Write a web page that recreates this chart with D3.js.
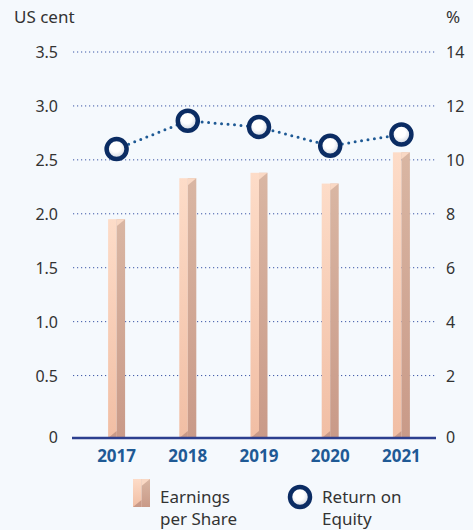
<!DOCTYPE html>
<html lang="en">
<head>
<meta charset="UTF-8">
<title>EPS and ROE</title>
<script src="https://cdn.jsdelivr.net/npm/d3@7"></script>
<style>
  body { margin: 0; background: #f5f9fd; }
  text { font-family: "Noto Sans", "Open Sans", sans-serif; }
</style>
</head>
<body>
<script>
const years = ["2017", "2018", "2019", "2020", "2021"];
const eps = [1.95, 2.33, 2.38, 2.28, 2.57];
const roe = [10.4, 11.45, 11.22, 10.52, 10.94];
const leftTicks = [0.5, 1.0, 1.5, 2.0, 2.5, 3.0, 3.5];
const rightTicks = [2, 4, 6, 8, 10, 12, 14];

const width = 473, height = 530;
const baseY = 438;

const svg = d3.select("body").append("svg")
    .attr("width", width).attr("height", height)
    .style("background", "#f5f9fd");

const x = d3.scaleBand().domain(years).range([81, 437]);
const y = d3.scaleLinear().domain([0, 3.5]).range([429.5, 52]);
const y2 = d3.scaleLinear().domain([0, 14]).range([429.5, 52]);

const defs = svg.append("defs");
const gl = defs.append("linearGradient").attr("id", "gl").attr("x1", 0).attr("y1", 0).attr("x2", 0).attr("y2", 1);
gl.append("stop").attr("offset", 0).attr("stop-color", "#fddcc8");
gl.append("stop").attr("offset", 1).attr("stop-color", "#f1bea4");
const gr = defs.append("linearGradient").attr("id", "gr").attr("x1", 0).attr("y1", 0).attr("x2", 0).attr("y2", 1);
gr.append("stop").attr("offset", 0).attr("stop-color", "#d9b6a3");
gr.append("stop").attr("offset", 1).attr("stop-color", "#c99a88");
const gc = defs.append("radialGradient").attr("id", "gc").attr("cx", 0.45).attr("cy", 0.4);
gc.append("stop").attr("offset", 0.5).attr("stop-color", "#ffffff");
gc.append("stop").attr("offset", 1).attr("stop-color", "#d8dde6");

// gridlines
svg.append("g").selectAll("line").data(leftTicks).join("line")
    .attr("x1", 73).attr("x2", 436)
    .attr("y1", d => y(d)).attr("y2", d => y(d))
    .attr("stroke", "#3b56a6").attr("stroke-width", 1)
    .attr("stroke-dasharray", "1.2 2.8");

// tick labels
const lab = svg.append("g").attr("font-size", 16).attr("fill", "#333");
lab.selectAll("text.l").data(leftTicks).join("text").attr("class", "l")
    .attr("x", 58).attr("y", d => y(d) + 6).attr("text-anchor", "end")
    .text(d => d.toFixed(1));
lab.append("text").attr("x", 58).attr("y", baseY + 5).attr("text-anchor", "end").text("0");
lab.selectAll("text.r").data(rightTicks).join("text").attr("class", "r")
    .attr("x", 446).attr("y", d => y2(d) + 6)
    .text(d => d);
lab.append("text").attr("x", 446).attr("y", baseY + 5).text("0");
lab.append("text").attr("x", 14).attr("y", 23).attr("font-size", 17).text("US cent");
lab.append("text").attr("x", 446).attr("y", 23).attr("font-size", 17).text("%");

// bars
const bw = 17, half = bw / 2, bev = 7;
function barShape(g, x0, top, bottom) {
    g.append("rect").attr("x", x0).attr("y", top).attr("width", half).attr("height", bottom - top).attr("fill", "url(#gl)");
    g.append("rect").attr("x", x0 + half).attr("y", top).attr("width", half).attr("height", bottom - top).attr("fill", "url(#gr)");
    g.append("path")
        .attr("d", `M${x0 + half},${top}L${x0 + bw},${top}L${x0 + half},${top + bev}Z`)
        .attr("fill", "#f9d8c4");
    g.append("path")
        .attr("d", `M${x0},${bottom}L${x0 + half},${bottom - bev}L${x0 + half},${bottom}Z`)
        .attr("fill", "#c99a88");
}
const bars = svg.append("g");
eps.forEach((v, i) => {
    const x0 = x(years[i]) + x.bandwidth() / 2 - half;
    barShape(bars.append("g"), x0, y(v), baseY);
});

// baseline
svg.append("line").attr("x1", 72).attr("x2", 436).attr("y1", baseY).attr("y2", baseY)
    .attr("stroke", "#2c3f8f").attr("stroke-width", 2.5);

// year labels
svg.append("g").selectAll("text").data(years).join("text")
    .attr("x", d => x(d) + x.bandwidth() / 2).attr("y", 462)
    .attr("text-anchor", "middle").attr("font-size", 17).attr("font-weight", "bold")
    .attr("fill", "#1f5a95").text(d => d);

// ROE line
const cx = d => x(d) + x.bandwidth() / 2;
const line = d3.line().x((d, i) => cx(years[i])).y(d => y2(d));
svg.append("path").datum(roe).attr("d", line)
    .attr("fill", "none").attr("stroke", "#1f5a95").attr("stroke-width", 3)
    .attr("stroke-linecap", "round").attr("stroke-dasharray", "0 6.5");
svg.append("g").selectAll("circle").data(roe).join("circle")
    .attr("cx", (d, i) => cx(years[i])).attr("cy", d => y2(d)).attr("r", 10)
    .attr("fill", "url(#gc)").attr("stroke", "#0b2c63").attr("stroke-width", 4.5);

// legend
const lg = svg.append("g");
barShape(lg.append("g"), 133, 479, 507);
const lt = lg.append("g").attr("font-size", 17).attr("fill", "#333");
lt.append("text").attr("x", 160).attr("y", 503).text("Earnings");
lt.append("text").attr("x", 160).attr("y", 525).text("per Share");
lg.append("circle").attr("cx", 300).attr("cy", 497).attr("r", 10)
    .attr("fill", "url(#gc)").attr("stroke", "#0b2c63").attr("stroke-width", 4.5);
lt.append("text").attr("x", 322).attr("y", 503).text("Return on");
lt.append("text").attr("x", 322).attr("y", 525).text("Equity");
</script>
</body>
</html>
